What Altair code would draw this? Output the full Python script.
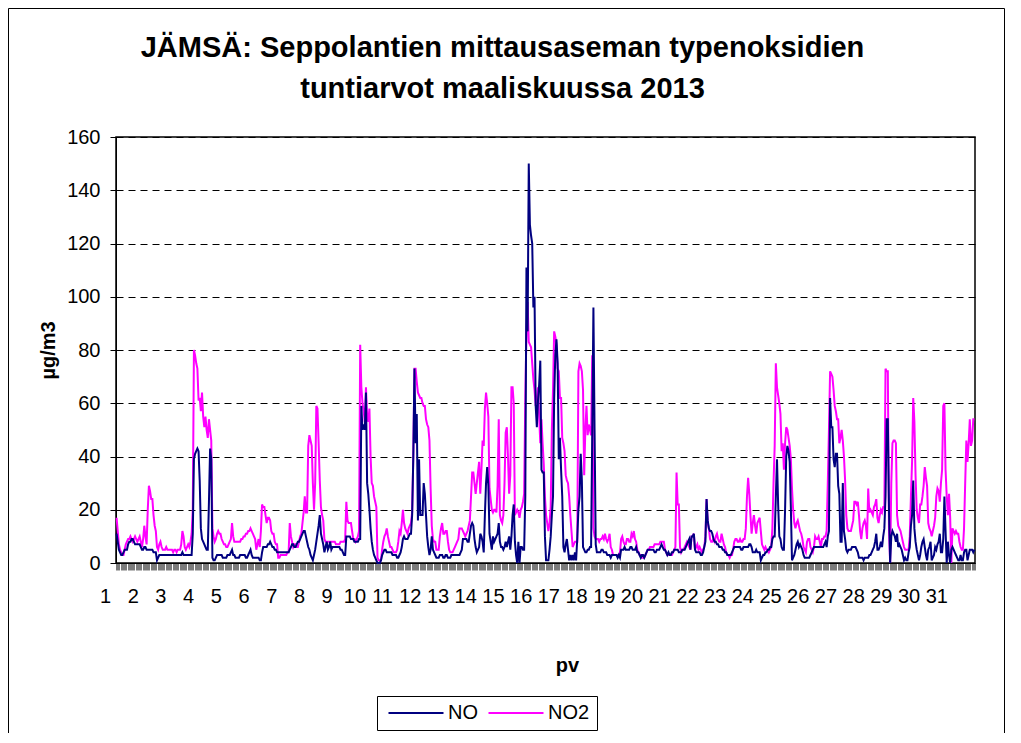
import altair as alt
import pandas as pd

SERIES = ["NO", "NO2"]
COLORS = ["#000080", "#FF00FF"]
DAY_LABELS = [str(d) for d in range(1, 32)]
Y_TICKS = [0, 20, 40, 60, 80, 100, 120, 140, 160]

# hourly values (µg/m3), one list of 24 hours per day, 1.-31.3.2013
NO2 = [
    [17, 12, 7, 5, 4, 3, 3, 5, 7, 8, 9, 9, 10, 9, 8, 9, 10, 9, 8, 9, 10, 8, 6, 9],
    [14, 10, 7, 20, 29, 27, 24, 24, 18, 14, 12, 6, 5, 7, 8, 6, 5, 5, 5, 6, 5, 5, 5, 5],
    [5, 4, 5, 5, 4, 5, 5, 5, 7, 12, 10, 6, 5, 6, 7, 6, 8, 11, 20, 80, 78, 75, 73, 61],
    [62, 57, 64, 55, 51, 55, 50, 47, 54, 50, 46, 13, 10, 8, 9, 11, 12, 11, 11, 9, 8, 7, 7, 6],
    [6, 7, 8, 9, 15, 10, 8, 8, 8, 8, 8, 8, 9, 9, 10, 10, 11, 11, 12, 12, 13, 12, 11, 10],
    [9, 5, 7, 9, 6, 12, 22, 21, 21, 18, 15, 17, 17, 16, 12, 11, 11, 8, 7, 7, 2, 2, 3, 3],
    [3, 3, 3, 3, 4, 4, 15, 10, 8, 6, 7, 7, 6, 6, 8, 10, 11, 15, 19, 25, 19, 19, 44, 48],
    [46, 44, 30, 20, 30, 59, 58, 45, 31, 21, 18, 16, 9, 8, 8, 8, 8, 8, 8, 8, 8, 8, 7, 7],
    [7, 7, 8, 8, 8, 8, 9, 23, 16, 15, 15, 15, 12, 9, 9, 8, 9, 10, 12, 82, 66, 60, 57, 53],
    [66, 55, 53, 58, 40, 30, 29, 25, 23, 21, 2, 1, 1, 1, 5, 8, 10, 11, 13, 10, 8, 6, 6, 5],
    [4, 4, 4, 5, 8, 12, 11, 15, 20, 15, 13, 12, 11, 13, 14, 15, 19, 40, 73, 73, 68, 64, 63, 62],
    [62, 60, 59, 59, 54, 52, 51, 46, 28, 14, 9, 8, 8, 5, 5, 5, 10, 13, 15, 11, 11, 12, 12, 8],
    [5, 4, 4, 4, 5, 6, 7, 8, 9, 13, 13, 13, 12, 11, 10, 11, 12, 14, 16, 25, 34, 34, 30, 26],
    [30, 34, 38, 26, 35, 46, 44, 58, 64, 60, 55, 28, 24, 20, 19, 20, 20, 19, 29, 54, 18, 16, 15, 18],
    [30, 49, 51, 40, 26, 33, 66, 66, 60, 18, 19, 20, 19, 17, 20, 21, 23, 26, 62, 87, 98, 83, 82, 81],
    [75, 69, 65, 59, 62, 66, 55, 45, 54, 45, 37, 25, 18, 15, 12, 15, 21, 50, 65, 87, 85, 82, 73, 72],
    [62, 62, 47, 45, 42, 33, 31, 30, 25, 18, 12, 6, 7, 8, 8, 8, 72, 75, 74, 72, 65, 33, 50, 59],
    [48, 52, 50, 48, 78, 13, 10, 9, 9, 9, 8, 9, 9, 10, 9, 11, 9, 8, 9, 11, 6, 5, 3, 3],
    [3, 3, 3, 3, 4, 9, 10, 8, 7, 7, 9, 9, 8, 8, 11, 10, 12, 9, 8, 5, 4, 3, 3, 2],
    [2, 2, 3, 4, 5, 5, 6, 6, 6, 6, 7, 7, 7, 7, 7, 8, 8, 8, 8, 5, 4, 3, 3, 3],
    [3, 3, 4, 5, 6, 34, 22, 22, 6, 4, 5, 5, 6, 7, 8, 7, 6, 5, 10, 10, 11, 5, 6, 7],
    [5, 6, 5, 4, 5, 6, 10, 24, 15, 13, 9, 8, 8, 9, 8, 10, 11, 9, 8, 8, 11, 9, 7, 6],
    [4, 3, 3, 2, 3, 3, 5, 8, 9, 9, 8, 8, 9, 8, 8, 9, 9, 13, 25, 32, 26, 18, 11, 15],
    [18, 14, 11, 15, 16, 17, 12, 7, 6, 5, 6, 5, 5, 4, 5, 6, 13, 30, 44, 75, 66, 63, 60, 56],
    [42, 45, 35, 45, 51, 50, 47, 44, 39, 28, 20, 15, 13, 15, 16, 14, 12, 11, 9, 6, 5, 4, 8, 9],
    [9, 6, 5, 4, 6, 10, 9, 9, 10, 8, 6, 9, 9, 10, 10, 12, 30, 50, 72, 71, 70, 65, 59, 57],
    [54, 54, 45, 47, 50, 46, 40, 31, 18, 13, 12, 12, 12, 14, 16, 23, 23, 22, 23, 18, 12, 9, 13, 15],
    [16, 14, 9, 28, 19, 20, 19, 18, 21, 22, 24, 17, 15, 18, 20, 19, 21, 21, 73, 72, 72, 13, 0, 30],
    [45, 46, 46, 45, 18, 14, 13, 12, 10, 8, 6, 5, 5, 5, 5, 10, 25, 38, 62, 53, 33, 20, 17, 15],
    [22, 22, 25, 29, 36, 32, 29, 15, 13, 12, 10, 12, 14, 17, 25, 28, 27, 23, 30, 35, 59, 60, 35, 25],
    [18, 26, 17, 0, 13, 12, 11, 12, 11, 11, 8, 6, 5, 5, 13, 30, 46, 38, 45, 54, 44, 46, 54, 54],
]

NO = [
    [11, 8, 5, 4, 3, 3, 4, 5, 5, 5, 7, 8, 8, 9, 9, 8, 7, 7, 7, 7, 7, 6, 5, 5],
    [6, 6, 5, 5, 5, 5, 5, 5, 4, 4, 4, 1, 2, 3, 3, 3, 3, 3, 3, 3, 3, 3, 3, 3],
    [3, 3, 3, 3, 3, 3, 3, 3, 3, 4, 3, 3, 3, 3, 3, 3, 3, 3, 11, 39, 41, 42, 43, 42],
    [31, 13, 9, 8, 7, 6, 5, 5, 23, 43, 39, 2, 1, 1, 2, 3, 3, 3, 3, 3, 2, 2, 2, 2],
    [3, 3, 3, 4, 5, 3, 3, 2, 2, 2, 2, 3, 3, 3, 3, 3, 2, 2, 3, 4, 5, 3, 2, 2],
    [2, 2, 2, 2, 1, 1, 4, 6, 6, 6, 6, 7, 7, 8, 7, 6, 6, 5, 5, 4, 4, 4, 4, 4],
    [4, 4, 4, 4, 4, 4, 5, 6, 7, 7, 6, 6, 7, 8, 8, 9, 10, 11, 12, 12, 10, 8, 6, 5],
    [3, 2, 1, 3, 5, 8, 11, 14, 18, 11, 9, 7, 4, 6, 8, 5, 6, 8, 5, 6, 6, 6, 6, 6],
    [6, 6, 5, 5, 4, 3, 3, 10, 10, 10, 10, 9, 9, 9, 8, 8, 8, 8, 9, 9, 59, 50, 52, 50],
    [64, 30, 26, 20, 13, 8, 5, 3, 2, 1, 0, 0, 0, 1, 3, 4, 5, 5, 4, 4, 4, 4, 4, 3],
    [3, 3, 3, 2, 2, 3, 4, 6, 9, 10, 9, 9, 9, 10, 11, 11, 18, 40, 73, 45, 56, 16, 39, 18],
    [18, 18, 30, 26, 18, 10, 6, 3, 5, 10, 5, 4, 3, 2, 2, 2, 3, 3, 3, 2, 2, 3, 3, 2],
    [2, 2, 3, 3, 3, 3, 3, 3, 3, 3, 4, 5, 9, 9, 9, 9, 8, 8, 11, 14, 15, 14, 9, 6],
    [4, 5, 6, 11, 10, 8, 4, 18, 30, 36, 29, 11, 8, 5, 10, 8, 9, 10, 11, 15, 8, 6, 6, 5],
    [6, 8, 6, 8, 10, 5, 10, 18, 22, 8, 3, 0, 8, 0, 6, 6, 5, 5, 25, 111, 87, 150, 127, 123],
    [120, 96, 100, 59, 51, 61, 67, 76, 35, 34, 34, 10, 1, 1, 1, 5, 10, 18, 25, 62, 78, 84, 75, 39],
    [47, 35, 25, 6, 4, 7, 9, 5, 1, 3, 1, 3, 1, 4, 1, 9, 20, 25, 41, 31, 6, 5, 4, 4],
    [5, 5, 6, 6, 50, 96, 50, 7, 4, 4, 4, 4, 5, 5, 4, 4, 4, 3, 3, 3, 2, 3, 3, 3],
    [3, 3, 2, 3, 2, 5, 5, 5, 6, 5, 5, 5, 5, 6, 6, 5, 5, 5, 6, 4, 4, 3, 2, 3],
    [3, 2, 3, 4, 5, 5, 5, 5, 5, 5, 4, 4, 5, 5, 5, 6, 7, 6, 5, 5, 4, 3, 4, 3],
    [3, 4, 4, 5, 5, 5, 5, 4, 4, 4, 5, 5, 5, 6, 7, 8, 9, 5, 10, 10, 11, 5, 4, 4],
    [4, 4, 3, 3, 4, 6, 8, 24, 16, 13, 12, 12, 11, 9, 8, 8, 7, 7, 6, 6, 6, 5, 5, 4],
    [4, 3, 3, 3, 3, 4, 5, 6, 6, 6, 6, 6, 6, 5, 5, 6, 6, 6, 6, 6, 7, 7, 6, 4],
    [4, 4, 5, 4, 4, 4, 1, 2, 3, 3, 4, 4, 5, 5, 6, 6, 9, 10, 10, 25, 39, 22, 10, 9],
    [6, 5, 5, 20, 40, 44, 42, 38, 21, 1, 2, 3, 5, 7, 8, 6, 7, 6, 5, 3, 2, 2, 2, 2],
    [2, 3, 4, 5, 6, 6, 6, 6, 6, 6, 6, 6, 6, 7, 8, 6, 10, 12, 62, 51, 51, 39, 36, 41],
    [41, 29, 26, 8, 8, 30, 12, 9, 5, 4, 5, 5, 5, 6, 6, 6, 6, 5, 4, 2, 2, 2, 2, 1],
    [2, 2, 2, 2, 3, 3, 4, 5, 6, 8, 11, 5, 5, 6, 8, 6, 10, 13, 25, 54, 54, 20, 0, 10],
    [12, 11, 10, 8, 11, 6, 7, 6, 5, 3, 1, 2, 1, 1, 4, 6, 14, 18, 31, 13, 8, 5, 3, 1],
    [3, 6, 8, 9, 6, 3, 1, 5, 6, 8, 1, 2, 3, 6, 5, 7, 8, 11, 4, 4, 9, 25, 12, 0],
    [8, 3, 0, 5, 6, 5, 4, 3, 2, 1, 1, 3, 1, 1, 4, 5, 5, 1, 3, 5, 5, 5, 4, 5],
]

rows = []
for name, days in (("NO", NO), ("NO2", NO2)):
    flat = [v for day in days for v in day]
    for h, v in enumerate(flat):
        rows.append({"hour": h, "value": v, "series": name})
df = pd.DataFrame(rows)

n_hours = 24 * len(DAY_LABELS)
tick_values = [i - 0.5 for i in range(n_hours + 1)]
FONT = "Liberation Sans"

label_expr = (
    "((datum.value + 0.5) % 24 == 0 && datum.value < " + str(n_hours - 1) + ")"
    " ? '' + ((datum.value + 0.5) / 24 + 1) : ''"
)

x_enc = alt.X(
    "hour:Q",
    title="pv",
    scale=alt.Scale(domain=[-0.5, n_hours - 0.5], nice=False, zero=False),
    axis=alt.Axis(
        values=tick_values,
        labelExpr=label_expr,
        labelOverlap=False, labelFlush=False, labelBound=False,
        labelOffset=-11, labelPadding=16, labelFontSize=20,
        tickSize=7, tickWidth=0.6, tickColor="#222222", grid=False,
        domainColor="black", titleFontSize=20, titleFontWeight="bold",
        titleX=451, titleY=102, titleBaseline="middle", titleAlign="center",
    ),
)
y_enc = alt.Y(
    "value:Q",
    title="µg/m3",
    scale=alt.Scale(domain=[0, 160], nice=False),
    axis=alt.Axis(
        values=Y_TICKS, tickSize=6, tickColor="black", labelPadding=10,
        labelFontSize=20, grid=True, gridColor="black", gridDash=[7, 5],
        gridWidth=1, domainColor="black", titleFontSize=20,
        titleFontWeight="bold", titleX=-68, titleY=213, titleAngle=270,
        titleBaseline="middle", titleAlign="center",
    ),
)
color_enc = alt.Color(
    "series:N",
    scale=alt.Scale(domain=SERIES, range=COLORS),
    legend=alt.Legend(
        title=None, orient="none", legendX=261, legendY=559,
        direction="horizontal", symbolType="M-1,0H9", symbolSize=121,
        symbolStrokeWidth=2, labelFontSize=20, labelFont=FONT,
        labelColor="black", strokeColor="black", fillColor="white",
        padding=7, columnPadding=6, labelOffset=44,
    ),
)

base = alt.Chart(df).encode(x=x_enc, y=y_enc, color=color_enc)
line_no2 = base.transform_filter(alt.datum.series == "NO2").mark_line(strokeWidth=2)
line_no = base.transform_filter(alt.datum.series == "NO").mark_line(strokeWidth=2)

frame_df = pd.DataFrame({"k": [0]})
frame_left = alt.Chart(frame_df).mark_rule(color="black", strokeWidth=1).encode(
    x=alt.value(-107.5), y=alt.value(-128.5), y2=alt.value(610))
frame_top = alt.Chart(frame_df).mark_rule(color="black", strokeWidth=1).encode(
    x=alt.value(-107.5), x2=alt.value(888.5), y=alt.value(-128.5))
frame_right = alt.Chart(frame_df).mark_rule(color="black", strokeWidth=1).encode(
    x=alt.value(888.5), y=alt.value(-128.5), y2=alt.value(610))

chart = alt.layer(line_no2, line_no, frame_left, frame_top, frame_right).properties(
    width=859,
    height=426,
    autosize=alt.AutoSizeParams(type="none"),
    padding={"left": 108, "top": 129, "right": 30, "bottom": 170},
    title=alt.Title(
        ["JÄMSÄ: Seppolantien mittausaseman typenoksidien", "tuntiarvot maaliskuussa 2013"],
        font=FONT, fontSize=29, fontWeight="bold", color="black",
        anchor="middle", dx=-43, offset=-96, lineHeight=41,
    ),
).configure(
    font=FONT,
).configure_axis(
    labelFont=FONT, titleFont=FONT, labelColor="black", titleColor="black",
).configure_view(
    stroke="black", strokeWidth=1.5,
)

chart.save("out.html", embed_options={"renderer": "svg", "actions": False})
